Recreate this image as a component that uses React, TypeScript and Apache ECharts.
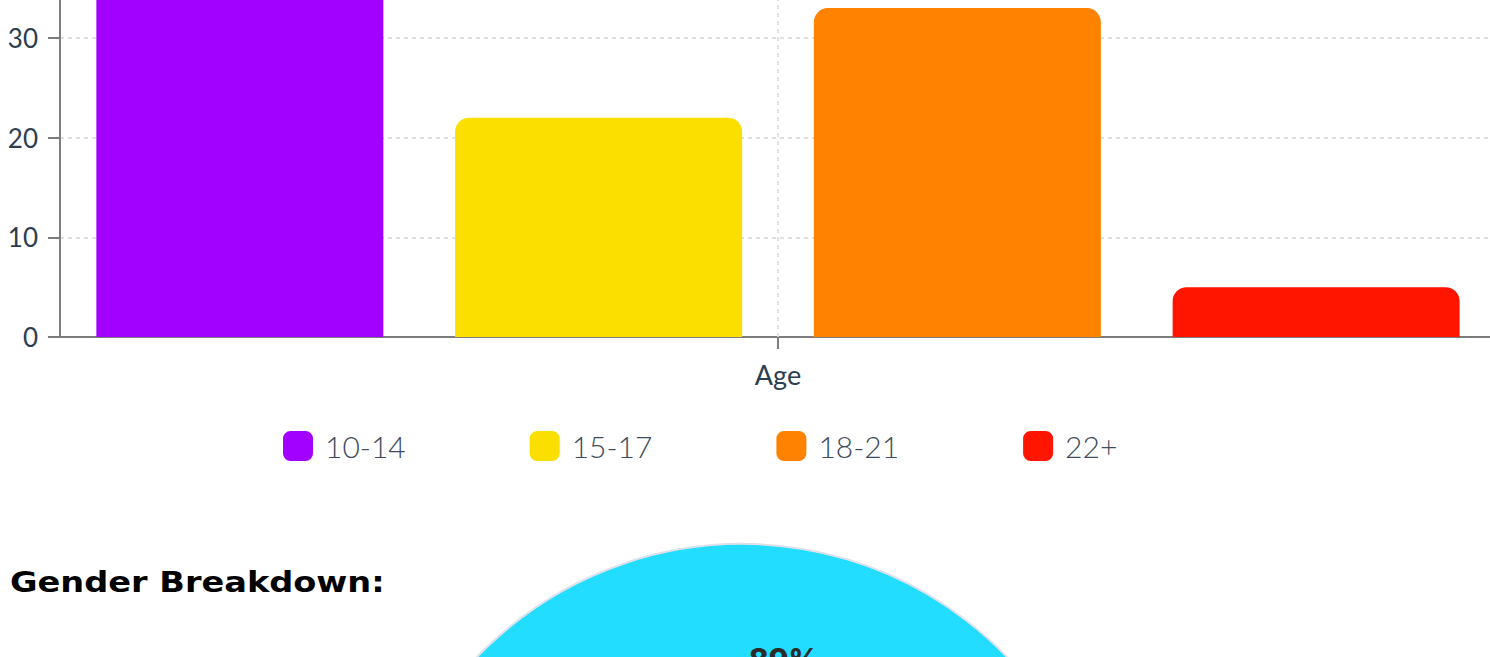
import React, { useEffect, useRef } from "react";
import * as echarts from "echarts";

const categories = ["Age"];
const ageGroups = ["10-14", "15-17", "18-21", "22+"];
const ageValues = [40, 22, 33, 5];
const ageColors = ["#a200ff", "#fadf00", "#ff8200", "#ff1500"];
const yTicks = { min: 0, max: 50, interval: 10 };

const genderLabels = ["Male", "Female"];
const genderValues = [89, 11];
const genderColors = ["#22ddff", "#ff3d9a"];

const OFFSET = 200; // page scrolled: chart's top is above the viewport

export default function App() {
  const ref = useRef<HTMLDivElement>(null);
  useEffect(() => {
    const chart = echarts.init(ref.current!, null, { renderer: "svg" });
    const total = genderValues.reduce((a, b) => a + b, 0);
    const gridLine = { color: "#d6d6d6", width: 1.5, type: [4, 4] };
    const option: any = {
      animation: false,
      grid: { left: 60, right: 4, top: 38.7, bottom: 900 - (337 + OFFSET), containLabel: false },
      legend: {
        data: ageGroups,
        left: 283,
        top: 431 + OFFSET,
        padding: 0,
        itemWidth: 30,
        itemHeight: 30,
        itemGap: 124,
        icon: "roundRect",
        textStyle: { fontFamily: "Lato", fontSize: 30, fontWeight: 300, color: "#3d4b5c", padding: [0, 0, 0, 7] },
      },
      xAxis: {
        type: "category",
        data: categories,
        axisLine: { lineStyle: { color: "#7d7d7d", width: 2 } },
        axisTick: { show: true, alignWithLabel: true, length: 12, lineStyle: { color: "#7d7d7d", width: 2 } },
        axisLabel: { fontFamily: "Lato", fontSize: 27, color: "#2c3e50", margin: 24 },
        splitLine: { show: false },
      },
      yAxis: {
        type: "value",
        min: yTicks.min,
        max: yTicks.max,
        interval: yTicks.interval,
        axisLine: { show: true, lineStyle: { color: "#7d7d7d", width: 2 } },
        axisTick: { show: true, length: 12, lineStyle: { color: "#7d7d7d", width: 2 } },
        axisLabel: { fontFamily: "Lato", fontSize: 26, color: "#2c3e50", margin: 22 },
        splitLine: { show: true, lineStyle: gridLine },
      },
      series: [
        {
          type: "line",
          name: "axisCenter",
          data: [],
          silent: true,
          markLine: {
            silent: true,
            symbol: "none",
            label: { show: false },
            lineStyle: gridLine,
            data: [{ xAxis: categories[0] }],
          },
        },
        ...ageGroups.map((name, i) => ({
          type: "bar",
          name,
          data: [ageValues[i]],
          barWidth: 287,
          barGap: "25%",
          itemStyle: { color: ageColors[i], borderRadius: [14, 14, 0, 0] },
        })),
        {
          type: "pie",
          name: "gender",
          center: [742, 911 + OFFSET],
          radius: [0, 367],
          startAngle: 240.7,
          clockwise: true,
          label: { show: false },
          labelLine: { show: false },
          itemStyle: { borderColor: "#dde2ea", borderWidth: 2 },
          data: genderLabels.map((n, i) => ({ name: n, value: genderValues[i], itemStyle: { color: genderColors[i] } })),
        },
        {
          type: "pie",
          name: "genderLabels",
          silent: true,
          center: [742, 911 + OFFSET],
          radius: [138, 367],
          startAngle: 240.7,
          clockwise: true,
          labelLine: { show: false },
          itemStyle: { color: "rgba(0,0,0,0)", borderWidth: 0 },
          label: {
            show: true,
            position: "inside",
            fontFamily: "Inter",
            fontWeight: 800,
            fontSize: 30,
            color: "#2b2b2b",
            formatter: (p: any) => Math.round((p.value / total) * 100) + "%",
          },
          data: genderLabels.map((n, i) => ({ name: n + " ", value: genderValues[i] })),
        },
      ],
      graphic: [
        {
          type: "text",
          x: 10,
          y: 582 + OFFSET,
          scaleX: 1.2,
          style: {
            x: 0,
            y: 0,
            text: "Gender Breakdown:",
            fontFamily: "DejaVu Sans",
            fontWeight: "bold",
            fontSize: 28,
            fill: "#000",
            textVerticalAlign: "middle",
          },
        },
      ],
    };
    chart.setOption(option);
    return () => chart.dispose();
  }, []);
  return (
    <div style={{ position: "fixed", left: 0, top: 0, width: 1490, height: 657, overflow: "hidden", background: "#fff" }}>
      <div ref={ref} style={{ position: "absolute", left: 0, top: -OFFSET, width: 1500, height: 900 }} />
    </div>
  );
}
